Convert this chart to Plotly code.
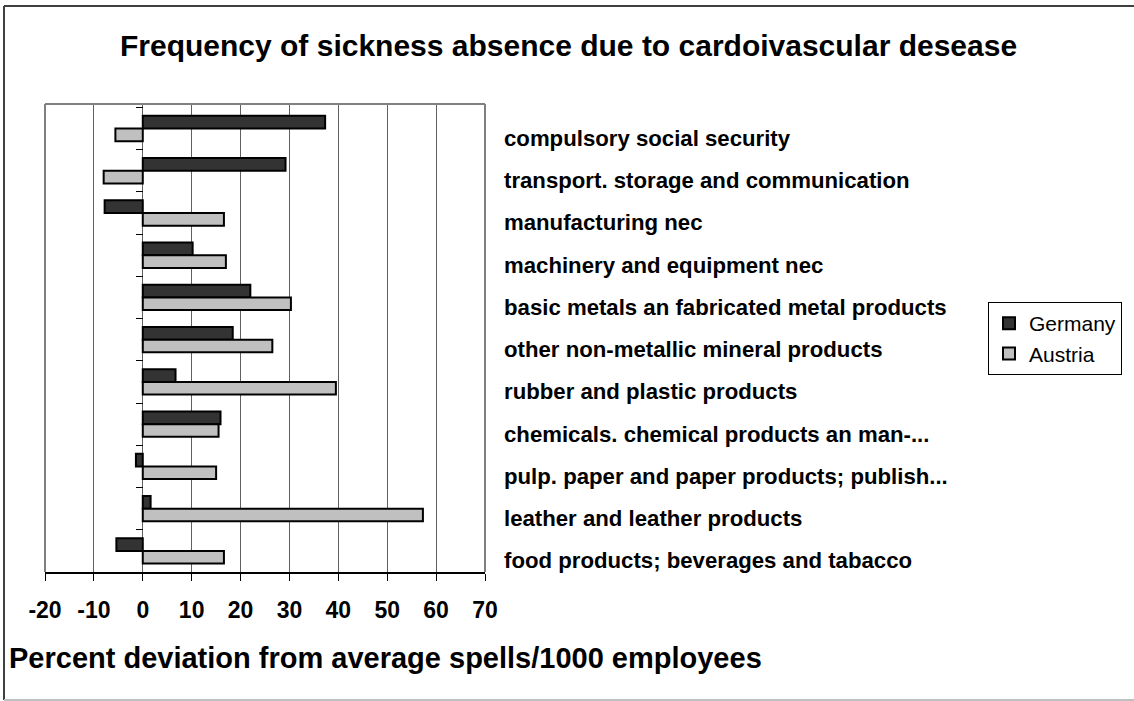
import plotly.graph_objects as go

categories = [
    "compulsory social security",
    "transport. storage and communication",
    "manufacturing nec",
    "machinery and equipment nec",
    "basic metals an fabricated metal products",
    "other non-metallic mineral products",
    "rubber and plastic products",
    "chemicals. chemical products an man-...",
    "pulp. paper and paper products; publish...",
    "leather and leather products",
    "food products; beverages and tabacco",
]
germany = [37.3, 29.2, -7.8, 10.2, 22.0, 18.4, 6.7, 15.9, -1.4, 1.6, -5.4]
austria = [-5.6, -8.0, 16.6, 17.0, 30.3, 26.5, 39.5, 15.5, 15.0, 57.3, 16.6]
x_ticks = [-20, -10, 0, 10, 20, 30, 40, 50, 60, 70]

W, H = 1134, 701
L, R, T, B = 45, 485, 104, 572

def px_x(p):
    return (p - L) / (R - L)

def px_y(p):
    return (B - p) / (B - T)

FONT = "Arial, Liberation Sans, sans-serif"

fig = go.Figure()
fig.add_trace(go.Bar(y=categories, x=germany, orientation="h", name="Germany",
                     marker=dict(color="#333333", line=dict(color="black", width=2))))
fig.add_trace(go.Bar(y=categories, x=austria, orientation="h", name="Austria",
                     marker=dict(color="#c0c0c0", line=dict(color="black", width=2))))

fig.update_layout(
    width=W, height=H,
    margin=dict(l=L, r=W - R, t=T, b=H - B),
    paper_bgcolor="white", plot_bgcolor="white",
    barmode="group", bargap=0.40, bargroupgap=0,
    font=dict(family=FONT, color="black"),
    showlegend=True,
    legend=dict(x=px_x(988), y=px_y(302), xanchor="left", yanchor="top",
                bordercolor="black", borderwidth=1, bgcolor="white",
                font=dict(size=21, family=FONT), tracegroupgap=0,
                itemwidth=30),
    xaxis=dict(range=[-20, 70], tickvals=x_ticks, ticktext=[str(v) for v in x_ticks],
               showgrid=True, gridcolor="#606060", gridwidth=1, zeroline=False,
               showline=True, linecolor="black", linewidth=1.5,
               ticks="outside", ticklen=7, tickcolor="black", ticklabelstandoff=10,
               tickfont=dict(size=23, family=FONT, weight="bold"), fixedrange=True),
    yaxis=dict(autorange="reversed", anchor="free", position=px_x(142.8),
               showticklabels=False, showgrid=False, zeroline=False, showline=False,
               ticks="outside", ticklen=7, tickcolor="black", tickson="boundaries",
               fixedrange=True),
)

# plot area border (grey) top, left, right
for x0, y0, x1, y1 in [(0, 1, 1, 1), (0, 0, 0, 1), (1, 0, 1, 1)]:
    fig.add_shape(type="line", xref="paper", yref="paper", x0=x0, y0=y0, x1=x1, y1=y1,
                  line=dict(color="#808080", width=2))

# outer chart border: top and left dark, bottom light grey
fig.add_shape(type="line", xref="paper", yref="paper",
              x0=px_x(4), y0=px_y(6), x1=px_x(1140), y1=px_y(6),
              line=dict(color="#404040", width=2))
fig.add_shape(type="line", xref="paper", yref="paper",
              x0=px_x(4), y0=px_y(6), x1=px_x(4), y1=px_y(700),
              line=dict(color="#404040", width=2))
fig.add_shape(type="line", xref="paper", yref="paper",
              x0=px_x(4), y0=px_y(700), x1=px_x(1140), y1=px_y(700),
              line=dict(color="#c0c0c0", width=2))

# category labels on the right
for c in categories:
    fig.add_annotation(x=px_x(502), xref="paper", y=c, yref="y", text=c,
                       showarrow=False, xanchor="left", yanchor="middle", yshift=-10,
                       font=dict(size=22.2, family=FONT, weight="bold"))

# title
fig.add_annotation(x=px_x(568), xref="paper", y=px_y(45), yref="paper",
                   text="Frequency of sickness absence due to cardoivascular desease",
                   showarrow=False, xanchor="center", yanchor="middle",
                   font=dict(size=30, family=FONT, weight="bold"))
# x-axis title
fig.add_annotation(x=px_x(7), xref="paper", y=px_y(658), yref="paper",
                   text="Percent deviation from average spells/1000 employees",
                   showarrow=False, xanchor="left", yanchor="middle",
                   font=dict(size=29, family=FONT, weight="bold"))

fig.write_html("out.html", config={"displayModeBar": False},
               post_script="document.body.style.margin='0';document.body.style.overflow='hidden';")
